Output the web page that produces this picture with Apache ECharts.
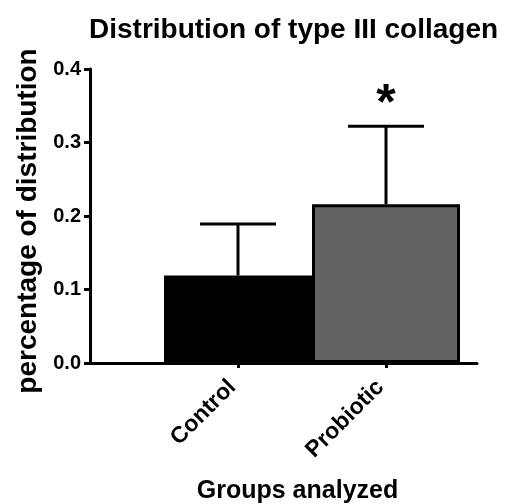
<!DOCTYPE html>
<html><head><meta charset="utf-8">
<script src="https://cdn.jsdelivr.net/npm/echarts@6/dist/echarts.min.js"></script>
<style>html,body{margin:0;padding:0;background:#fff}#c{width:520px;height:504px}</style>
</head><body><div id="c"></div>
<script>
const categories = ['Control', 'Probiotic'];
const means = [0.119, 0.216];
const upperErr = [0.189, 0.322];
const barColors = ['#000000', '#636363'];
const sigMarks = ['', '*'];
const sigLevel = [0, 0.351];
const yTicks = [0, 0.1, 0.2, 0.3, 0.4];

const FONT = 'Liberation Sans, Arial, sans-serif';
const chart = echarts.init(document.getElementById('c'));
chart.setOption({
  animation: false,
  title: {
    text: 'Distribution of type III collagen',
    left: 84, top: 11,
    textStyle: {fontFamily: FONT, fontWeight: 'bold', fontSize: 28, color: '#000'}
  },
  grid: [
    {left: 90, right: 43, top: 69, bottom: 141, containLabel: false, outerBoundsMode: 'none'},
    {left: 164, right: 60, top: 69, bottom: 141, containLabel: false, outerBoundsMode: 'none'}
  ],
  xAxis: [
    {gridIndex: 0, type: 'value', min: 0, max: 1,
     axisLine: {show: true, lineStyle: {color: '#000', width: 3}},
     axisTick: {show: false}, axisLabel: {show: false}, splitLine: {show: false},
     name: 'Groups analyzed', nameLocation: 'middle', nameGap: 116,
     nameTextStyle: {fontFamily: FONT, fontWeight: 'bold', fontSize: 25, color: '#000', padding: [0, 0, 0, 28]}},
    {gridIndex: 1, type: 'category', data: categories,
     axisLine: {show: false},
     axisTick: {show: true, alignWithLabel: true, length: 5, lineStyle: {color: '#000', width: 3}},
     axisLabel: {rotate: 45, margin: 15, padding: [0, 8, 0, 0], fontFamily: FONT, fontWeight: 'bold', fontSize: 23, color: '#000'}}
  ],
  yAxis: [
    {gridIndex: 0, type: 'value', min: 0, max: 0.4, interval: 0.1,
     axisLine: {show: true, lineStyle: {color: '#000', width: 3}},
     axisTick: {show: true, length: 6, lineStyle: {color: '#000', width: 3}},
     axisLabel: {margin: 9, fontFamily: FONT, fontWeight: 'bold', fontSize: 20, color: '#000',
       formatter: v => v.toFixed(1)},
     splitLine: {show: false},
     name: 'percentage of distribution', nameLocation: 'middle', nameGap: 47,
     nameTextStyle: {fontFamily: FONT, fontWeight: 'bold', fontSize: 28, color: '#000', padding: [0, 10, 0, 0]}},
    {gridIndex: 1, type: 'value', min: 0, max: 0.4, show: false}
  ],
  series: [
    {type: 'bar', xAxisIndex: 1, yAxisIndex: 1, barWidth: '100%', barGap: 0,
     data: means.map((v, i) => ({value: v, itemStyle: {color: barColors[i], borderColor: '#000', borderWidth: 3}})),
     z: 2},
    {type: 'custom', xAxisIndex: 1, yAxisIndex: 1, z: 3,
     data: categories.map((c, i) => [i, means[i], upperErr[i]]),
     renderItem: (params, api) => {
       const base = api.coord([api.value(0), api.value(1)]);
       const top = api.coord([api.value(0), api.value(2)]);
       const half = 38;
       const st = {stroke: '#000', lineWidth: 3};
       return {type: 'group', children: [
         {type: 'line', shape: {x1: base[0], y1: base[1], x2: top[0], y2: top[1]}, style: st},
         {type: 'line', shape: {x1: top[0] - half, y1: top[1], x2: top[0] + half, y2: top[1]}, style: st}
       ]};
     }},
    {type: 'custom', xAxisIndex: 1, yAxisIndex: 1, z: 4,
     data: categories.map((c, i) => [i, sigLevel[i]]),
     renderItem: (params, api) => {
       const t = sigMarks[params.dataIndex];
       if (!t) return null;
       const p = api.coord([api.value(0), api.value(1)]);
       return {type: 'text', x: p[0], y: p[1], style: {text: t, fill: '#000',
         font: 'bold 50px ' + FONT, textAlign: 'center', textVerticalAlign: 'middle'}};
     }}
  ]
});
</script></body></html>
